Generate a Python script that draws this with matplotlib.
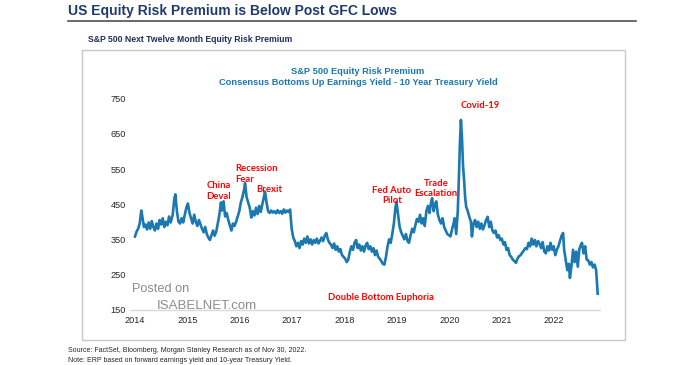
import matplotlib
matplotlib.use("Agg")
import matplotlib.pyplot as plt
from matplotlib.patches import Rectangle
from matplotlib.lines import Line2D

plt.rcParams['font.family'] = ['Liberation Sans', 'DejaVu Sans']

# ---------------- data (decimal year, ERP in bp) ----------------
erp_dates = [
    2014.00, 2014.03, 2014.06, 2014.09, 2014.12, 2014.14, 2014.17, 2014.20, 2014.23, 2014.26,
    2014.29, 2014.32, 2014.35, 2014.38, 2014.41, 2014.44, 2014.47, 2014.50, 2014.53, 2014.56,
    2014.59, 2014.62, 2014.65, 2014.68, 2014.72, 2014.75, 2014.77, 2014.80, 2014.83, 2014.86,
    2014.89, 2014.92, 2014.95, 2014.98, 2015.01, 2015.04, 2015.07, 2015.10, 2015.13, 2015.16,
    2015.19, 2015.22, 2015.25, 2015.28, 2015.31, 2015.34, 2015.37, 2015.40, 2015.43, 2015.46,
    2015.49, 2015.52, 2015.55, 2015.58, 2015.61, 2015.64, 2015.66, 2015.69, 2015.72, 2015.75,
    2015.78, 2015.81, 2015.84, 2015.87, 2015.90, 2015.93, 2015.96, 2015.99, 2016.02, 2016.05,
    2016.08, 2016.10, 2016.13, 2016.16, 2016.19, 2016.22, 2016.25, 2016.28, 2016.31, 2016.34,
    2016.37, 2016.40, 2016.43, 2016.46, 2016.48, 2016.51, 2016.54, 2016.57, 2016.60, 2016.63,
    2016.66, 2016.69, 2016.72, 2016.75, 2016.78, 2016.81, 2016.84, 2016.87, 2016.90, 2016.93,
    2016.96, 2016.99, 2017.02, 2017.05, 2017.08, 2017.11, 2017.14, 2017.17, 2017.20, 2017.23,
    2017.26, 2017.29, 2017.32, 2017.35, 2017.38, 2017.41, 2017.44, 2017.47, 2017.50, 2017.53,
    2017.56, 2017.59, 2017.62, 2017.65, 2017.68, 2017.71, 2017.74, 2017.77, 2017.80, 2017.83,
    2017.86, 2017.89, 2017.92, 2017.95, 2017.98, 2018.01, 2018.04, 2018.07, 2018.10, 2018.13,
    2018.16, 2018.19, 2018.22, 2018.25, 2018.28, 2018.31, 2018.34, 2018.37, 2018.40, 2018.43,
    2018.46, 2018.49, 2018.52, 2018.55, 2018.58, 2018.61, 2018.64, 2018.67, 2018.70, 2018.73,
    2018.76, 2018.79, 2018.82, 2018.85, 2018.88, 2018.91, 2018.94, 2018.97, 2018.99, 2019.02,
    2019.05, 2019.08, 2019.11, 2019.14, 2019.17, 2019.20, 2019.23, 2019.26, 2019.29, 2019.32,
    2019.35, 2019.38, 2019.41, 2019.44, 2019.47, 2019.50, 2019.53, 2019.56, 2019.59, 2019.62,
    2019.65, 2019.67, 2019.70, 2019.72, 2019.75, 2019.78, 2019.81, 2019.84, 2019.87, 2019.90,
    2019.93, 2019.96, 2019.99, 2020.02, 2020.05, 2020.08, 2020.10, 2020.13, 2020.16, 2020.18,
    2020.20, 2020.22, 2020.24, 2020.26, 2020.28, 2020.30, 2020.32, 2020.35, 2020.38, 2020.41,
    2020.43, 2020.46, 2020.49, 2020.52, 2020.55, 2020.58, 2020.61, 2020.64, 2020.67, 2020.70,
    2020.73, 2020.76, 2020.79, 2020.82, 2020.85, 2020.88, 2020.91, 2020.94, 2020.97, 2021.00,
    2021.03, 2021.06, 2021.09, 2021.12, 2021.15, 2021.18, 2021.21, 2021.24, 2021.27, 2021.30,
    2021.33, 2021.36, 2021.39, 2021.42, 2021.45, 2021.48, 2021.51, 2021.54, 2021.57, 2021.60,
    2021.63, 2021.66, 2021.69, 2021.72, 2021.75, 2021.78, 2021.81, 2021.84, 2021.87, 2021.90,
    2021.93, 2021.96, 2021.99, 2022.02, 2022.05, 2022.08, 2022.11, 2022.14, 2022.17, 2022.19,
    2022.22, 2022.25, 2022.28, 2022.30, 2022.33, 2022.36, 2022.39, 2022.42, 2022.45, 2022.48,
    2022.51, 2022.53, 2022.56, 2022.59, 2022.62, 2022.65, 2022.68, 2022.71, 2022.74, 2022.77,
    2022.80, 2022.82, 2022.83,
]
erp_values = [
    358, 372, 380, 395, 432, 415, 385, 392, 378, 398,
    380, 402, 385, 375, 395, 380, 405, 392, 410, 385,
    400, 390, 415, 398, 420, 465, 478, 430, 400, 395,
    410, 398, 420, 440, 452, 425, 410, 395, 420, 400,
    388, 405, 392, 380, 370, 385, 365, 355, 348, 362,
    375, 360, 372, 395, 420, 455, 432, 458, 415, 425,
    405, 390, 375, 395, 388, 400, 415, 430, 455, 470,
    490, 510, 470, 455, 440, 412, 430, 418, 440, 422,
    445, 428, 450, 470, 486, 455, 430, 425, 432, 426,
    430, 424, 433, 425, 430, 423, 435, 426, 432, 428,
    435, 380, 355, 345, 330, 340, 325, 345, 335, 352,
    340, 358, 338, 350, 335, 348, 340, 352, 338, 345,
    355, 345, 360, 368, 350, 340, 335, 325, 338, 320,
    330, 315, 322, 305, 300, 295, 285, 292, 315, 330,
    320, 340, 348, 325, 335, 318, 330, 315, 332, 340,
    322, 330, 315, 325, 305, 318, 300, 295, 288, 280,
    278, 300, 330, 350, 340, 365, 395, 440, 457, 420,
    385, 370, 360, 350, 365, 345, 340, 362, 380, 370,
    390, 408, 400, 420, 395, 410, 388, 430, 445, 425,
    455, 467, 430, 448, 458, 420, 405, 395, 410, 385,
    375, 365, 362, 358, 378, 395, 410, 365, 430, 520,
    620, 690, 640, 560, 520, 470, 443, 430, 414, 400,
    358, 395, 405, 385, 400, 380, 395, 378, 390, 405,
    414, 385, 400, 375, 368, 375, 355, 362, 348, 352,
    335, 342, 320, 325, 305, 300, 292, 288, 283, 295,
    302, 305, 312, 318, 325, 322, 340, 330, 352, 335,
    348, 330, 345, 338, 325, 342, 315, 310, 330, 318,
    340, 320, 330, 305, 320, 330, 345, 360, 368, 320,
    290, 262, 280, 240, 275, 320, 285, 315, 272, 322,
    335, 340, 310, 330, 292, 290, 278, 285, 270, 278,
    262, 215, 195,
]
year_ticks = [2014, 2015, 2016, 2017, 2018, 2019, 2020, 2021, 2022]
value_ticks = [150, 250, 350, 450, 550, 650, 750]

events = ["China\nDeval", "Recession\nFear", "Brexit", "Fed Auto\nPilot",
          "Trade\nEscalation", "Covid-19", "Double Bottom Euphoria"]

# ---------------- figure ----------------
W, H = 700, 365
fig = plt.figure(figsize=(W / 100, H / 100), dpi=100)
fig.patch.set_facecolor("white")


def fx(x):
    return x / W


def fy(y):
    return 1 - y / H


navy = "#1f3a6e"
line_blue = "#1b78b0"
red = "#ff0000"

# header
fig.text(fx(68), fy(11.5), "US Equity Risk Premium is Below Post GFC Lows",
         fontsize=10.0, fontweight="bold", color=navy, ha="left", va="center")
fig.add_artist(Line2D([fx(68), fx(636)], [fy(20.5), fy(20.5)],
                      color="#404040", lw=1.1, transform=fig.transFigure))
fig.text(fx(88), fy(40), "S&P 500 Next Twelve Month Equity Risk Premium",
         fontsize=6.2, fontweight="bold", color="#1f2d5a", ha="left", va="center")

# panel border
fig.add_artist(Rectangle((fx(82), fy(339.5)), fx(625 - 82), (339.5 - 49.5) / H,
                         transform=fig.transFigure, fill=False,
                         edgecolor="#c8c8c8", lw=1.0))

# panel titles
fig.text(fx(358), fy(72), "S&P 500 Equity Risk Premium", fontsize=6.7,
         fontweight="bold", color=line_blue, ha="center", va="center")
fig.text(fx(358), fy(82.5), "Consensus Bottoms Up Earnings Yield - 10 Year Treasury Yield",
         fontsize=6.7, fontweight="bold", color=line_blue, ha="center", va="center")

# axes
ax_left, ax_right, ax_top, ax_bottom = 130, 600, 91, 309.5
ax = fig.add_axes([fx(ax_left), fy(ax_bottom), (ax_right - ax_left) / W,
                   (ax_bottom - ax_top) / H])
ax.set_facecolor("none")
px_per_year = 52.4
x0 = 2014 - (135 - ax_left) / px_per_year
x1 = 2014 + (ax_right - 135) / px_per_year
ax.set_xlim(x0, x1)
px_per_unit = 35.1 / 100
ax.set_ylim(150, 150 + (ax_bottom - ax_top) / px_per_unit)

ax.plot(erp_dates, erp_values, color=line_blue, lw=1.9, solid_joinstyle="round",
        zorder=3)

for s in ["top", "right", "left"]:
    ax.spines[s].set_visible(False)
ax.spines["bottom"].set_color("#d9d9d9")
ax.spines["bottom"].set_linewidth(1.0)
ax.set_xticks(year_ticks)
ax.set_xticklabels([str(y) for y in year_ticks])
ax.set_yticks(value_ticks)
ax.set_yticklabels([str(v) for v in value_ticks])
ax.tick_params(axis="both", length=0, labelsize=6.6, colors="#262626")
ax.tick_params(axis="x", pad=5)
ax.tick_params(axis="y", pad=3)

# annotations
ann_font = dict(fontsize=6.8, fontweight="bold", color=red,
                family=["Lato", "Liberation Sans", "DejaVu Sans"], linespacing=1.25)
fig.text(fx(219), fy(191), events[0], ha="center", va="center", **ann_font)
fig.text(fx(235), fy(174), events[1], ha="left", va="center", **ann_font)
fig.text(fx(269), fy(190), events[2], ha="center", va="center", **ann_font)
fig.text(fx(392), fy(195.5), events[3], ha="center", va="center", **ann_font)
fig.text(fx(436), fy(188.5), events[4], ha="center", va="center", **ann_font)
fig.text(fx(480.5), fy(105.5), events[5], ha="center", va="center", **ann_font)
fig.text(fx(381), fy(297.5), events[6], ha="center", va="center", **ann_font)

# watermark
fig.text(fx(132), fy(288.5), "Posted on", fontsize=9.2, color="#8c8c8c",
         ha="left", va="center")
fig.text(fx(157), fy(306), "ISABELNET.com", fontsize=9.5, color="#8c8c8c",
         ha="left", va="center")

# footnotes
fig.text(fx(68), fy(351), "Source: FactSet, Bloomberg, Morgan Stanley Research as of Nov 30, 2022.",
         fontsize=5.0, color="#262626", ha="left", va="center")
fig.text(fx(68), fy(360), "Note: ERP based on forward earnings yield and 10-year Treasury Yield.",
         fontsize=5.0, color="#262626", ha="left", va="center")

fig.savefig("out.png", dpi=100, facecolor="white")
